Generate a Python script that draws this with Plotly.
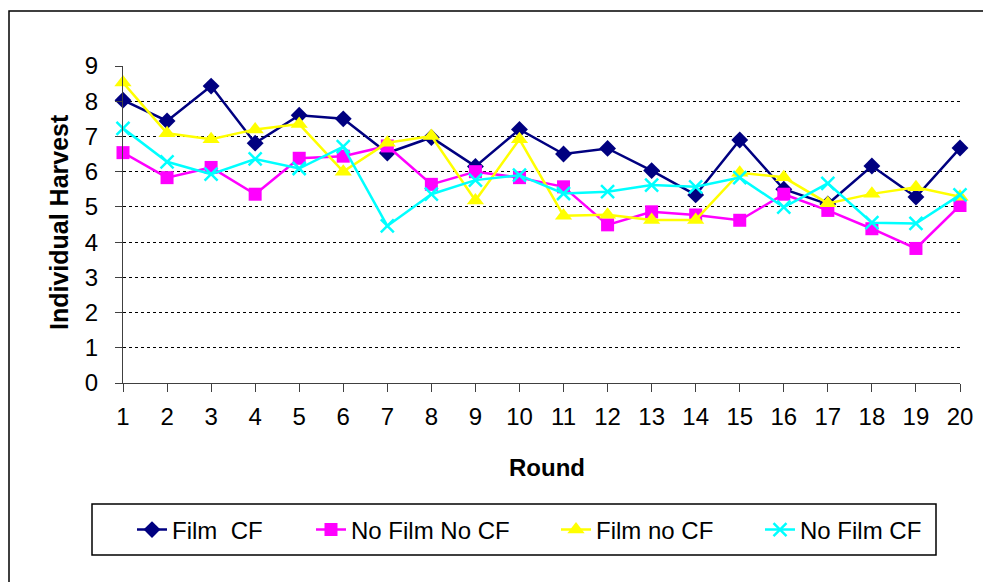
import plotly.graph_objects as go

rounds = list(range(1, 21))
film_cf = [8.03, 7.44, 8.43, 6.81, 7.6, 7.5, 6.53, 6.97, 6.15, 7.2,
           6.5, 6.66, 6.03, 5.34, 6.9, 5.5, 5.08, 6.16, 5.28, 6.67]
nofilm_nocf = [6.54, 5.83, 6.12, 5.36, 6.38, 6.44, 6.73, 5.64, 6.0, 5.83,
               5.57, 4.49, 4.86, 4.77, 4.62, 5.36, 4.9, 4.38, 3.82, 5.04]
film_nocf = [8.53, 7.09, 6.92, 7.2, 7.35, 6.0, 6.82, 7.01, 5.18, 6.92,
             4.75, 4.78, 4.63, 4.63, 5.97, 5.84, 5.1, 5.37, 5.56, 5.29]
nofilm_cf = [7.23, 6.28, 5.93, 6.36, 6.09, 6.71, 4.46, 5.36, 5.76, 5.9,
             5.38, 5.43, 5.62, 5.57, 5.83, 4.99, 5.67, 4.55, 4.53, 5.34]

names = ["Film \u00a0CF", "No Film No CF", "Film no CF", "No Film CF"]
series = [film_cf, nofilm_nocf, film_nocf, nofilm_cf]
colors = ["#000080", "#FF00FF", "#FFFF00", "#00FFFF"]
symbols = ["diamond", "square", "triangle-up", "x-thin"]
sizes = [13, 13, 15, 13]

# page geometry (page pixels); the page body adds an 8px offset
OFF = 8
PAGE_W, PAGE_H = 991, 582
W, H = PAGE_W - OFF, PAGE_H - OFF
X0, X1, Y0, Y1 = 123, 960, 66, 383  # plot area in page pixels
L, T = X0 - OFF, Y0 - OFF
R = W - (X1 - OFF)
B = H - (Y1 - OFF)
PW, PH = X1 - X0, Y1 - Y0
FONT = "Liberation Sans, Arial, sans-serif"


def px(x):
    return (x - X0) / PW


def py(y):
    return (Y1 - y) / PH


fig = go.Figure()
legend_keys = ["legend", "legend2", "legend3", "legend4"]
for i in range(4):
    marker = dict(symbol=symbols[i], size=sizes[i], color=colors[i])
    if symbols[i] == "x-thin":
        marker["line"] = dict(color=colors[i], width=2.5)
    else:
        marker["line"] = dict(color=colors[i], width=0)
    fig.add_trace(go.Scatter(
        x=rounds, y=series[i], name=names[i], mode="lines+markers",
        line=dict(color=colors[i], width=2.5), marker=marker,
        cliponaxis=False, legend=legend_keys[i]))

text_starts = [173, 352, 597, 801]
layout_legends = {}
for i, key in enumerate(legend_keys):
    layout_legends[key] = dict(
        x=px(text_starts[i] - 41), xanchor="left",
        y=py(530), yanchor="middle",
        orientation="h", bgcolor="rgba(0,0,0,0)", borderwidth=0,
        font=dict(family=FONT, size=24, color="black"))

fig.update_layout(
    width=W, height=H,
    margin=dict(l=L, r=R, t=T, b=B),
    paper_bgcolor="white", plot_bgcolor="white",
    showlegend=True,
    font=dict(family=FONT, size=24, color="black"),
    xaxis=dict(
        range=[1, 20], tickmode="array", tickvals=rounds,
        ticktext=[str(r) for r in rounds],
        ticks="outside", ticklen=8, tickcolor="#404040", tickwidth=1,
        showline=True, linecolor="#404040", linewidth=1,
        showgrid=False, zeroline=False, ticklabelstandoff=4,
        tickfont=dict(family=FONT, size=24, color="black")),
    yaxis=dict(
        range=[0, 9], tickmode="array", tickvals=list(range(0, 10)),
        ticks="outside", ticklen=7, tickcolor="#404040", tickwidth=1,
        showline=True, linecolor="#404040", linewidth=1,
        showgrid=True, gridcolor="black", gridwidth=1, griddash="dot",
        zeroline=False, ticklabelstandoff=12,
        tickfont=dict(family=FONT, size=24, color="black")),
    annotations=[
        dict(text="<b>Round</b>", xref="paper", yref="paper",
             x=px(547), y=py(467), xanchor="center", yanchor="middle",
             showarrow=False,
             font=dict(family=FONT, size=24, color="black")),
        dict(text="<b>Individual Harvest</b>", xref="paper", yref="paper",
             x=px(59), y=py(222), xanchor="center", yanchor="middle",
             showarrow=False, textangle=-90,
             font=dict(family=FONT, size=25, color="black")),
    ],
    shapes=[
        dict(type="rect", xref="paper", yref="paper",
             x0=px(9), x1=px(1010), y0=py(620), y1=py(11),
             line=dict(color="black", width=1.5), layer="below"),
        dict(type="rect", xref="paper", yref="paper",
             x0=px(92), x1=px(936), y0=py(555), y1=py(504),
             line=dict(color="black", width=1.5), layer="below"),
    ],
    **layout_legends,
)

fig.write_html("out.html")
